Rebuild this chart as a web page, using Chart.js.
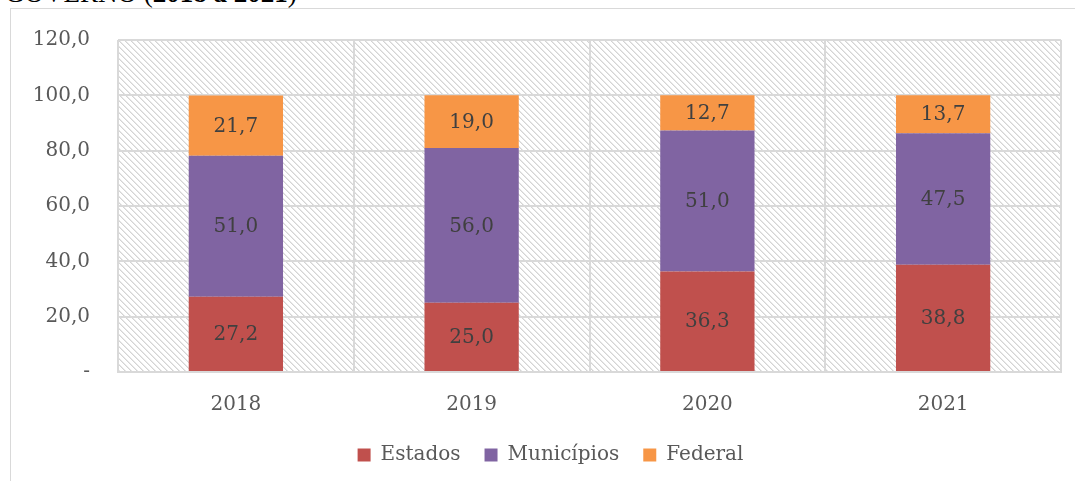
<!DOCTYPE html>
<html>
<head>
<meta charset="utf-8">
<script src="https://cdn.jsdelivr.net/npm/chart.js@4/dist/chart.umd.min.js"></script>
<style>
  html, body { margin: 0; padding: 0; background: #fff; width: 1075px; height: 481px; overflow: hidden; }
  #wrap { position: absolute; left: 0; top: 0; width: 1075px; height: 481px; }
  #title { position: absolute; left: 5px; top: -20px; font-family: "Liberation Serif", serif; font-size: 27px; color: #000; white-space: nowrap; line-height: 27px; }
  #frameTop { position: absolute; left: 10px; top: 8px; width: 1065px; height: 1px; background: #d9d9d9; }
  #frameLeft { position: absolute; left: 10px; top: 8px; width: 1px; height: 473px; background: #d9d9d9; }
  canvas { position: absolute; left: 0; top: 0; }
</style>
</head>
<body>
<div id="wrap">
  <div id="title">GOVERNO (<b>2018 a 2021</b>)</div>
  <div id="frameTop"></div>
  <div id="frameLeft"></div>
  <canvas id="c" width="1075" height="481"></canvas>
</div>
<script>
const categories = ["2018", "2019", "2020", "2021"];
const estados = [27.2, 25.0, 36.3, 38.8];
const municipios = [51.0, 56.0, 51.0, 47.5];
const federal = [21.7, 19.0, 12.7, 13.7];
const seriesNames = ["Estados", "Municípios", "Federal"];
const yTicks = [0, 20, 40, 60, 80, 100, 120];

const FONT = "'DejaVu Serif', 'Liberation Serif', serif";
const TXT = "#595959";

function fmt(v) {
  return v.toFixed(1).replace(".", ",");
}

let hatch = null;
function getHatch(ctx) {
  if (hatch) return hatch;
  const N = 6;
  const p = document.createElement("canvas");
  p.width = N; p.height = N;
  const g = p.getContext("2d");
  g.fillStyle = "#ffffff";
  g.fillRect(0, 0, N, N);
  for (let y = 0; y < N; y++) {
    g.fillStyle = "#d4d4d4";
    g.fillRect(y % N, y, 1, 1);
    g.fillStyle = "#e8e8e8";
    g.fillRect((y + 1) % N, y, 1, 1);
  }
  hatch = ctx.createPattern(p, "repeat");
  return hatch;
}

const hatchPlugin = {
  id: "hatchBg",
  beforeDraw(chart) {
    const { ctx, chartArea } = chart;
    ctx.save();
    ctx.fillStyle = getHatch(ctx);
    ctx.fillRect(chartArea.left, chartArea.top, chartArea.right - chartArea.left, chartArea.bottom - chartArea.top);
    ctx.restore();
  }
};

const legendShift = {
  id: "legendShift",
  afterLayout(chart) {
    const lg = chart.legend;
    if (lg) { lg.left += 20; lg.right += 20; }
  }
};

const labelPlugin = {
  id: "segLabels",
  afterDatasetsDraw(chart) {
    const ctx = chart.ctx;
    ctx.save();
    ctx.font = "20px " + FONT;
    ctx.fillStyle = "#404040";
    ctx.textAlign = "center";
    ctx.textBaseline = "middle";
    chart.data.datasets.forEach((ds, i) => {
      const meta = chart.getDatasetMeta(i);
      meta.data.forEach((el, j) => {
        const c = el.getCenterPoint();
        ctx.fillText(fmt(ds.data[j]), c.x, c.y + 1);
      });
    });
    ctx.restore();
  }
};

new Chart(document.getElementById("c"), {
  type: "bar",
  data: {
    labels: categories,
    datasets: [
      { label: seriesNames[0], data: estados, backgroundColor: "#C0504D" },
      { label: seriesNames[1], data: municipios, backgroundColor: "#8064A2" },
      { label: seriesNames[2], data: federal, backgroundColor: "#F79646" }
    ]
  },
  options: {
    responsive: false,
    animation: false,
    layout: { padding: { top: 31, right: 14, left: 0, bottom: 6 } },
    datasets: { bar: { categoryPercentage: 1.0, barPercentage: 0.4, borderWidth: 0 } },
    scales: {
      x: {
        stacked: true,
        grid: { display: true, offset: true, color: "#d9d9d9", lineWidth: 2, drawTicks: false },
        border: { display: true, color: "#d9d9d9", width: 2 },
        ticks: { color: TXT, font: { family: FONT, size: 20 }, padding: 21 },
        afterFit(s) { s.height = 49; }
      },
      y: {
        stacked: true,
        min: 0, max: 120,
        afterBuildTicks(s) { s.ticks = yTicks.map(v => ({ value: v })); },
        grid: { color: "#d9d9d9", lineWidth: 2, drawTicks: false },
        border: { display: false },
        ticks: {
          color: TXT, font: { family: FONT, size: 20 }, padding: 28,
          callback: (v) => v === 0 ? "-" : fmt(v)
        },
        afterFit(s) { s.width = 118; }
      }
    },
    plugins: {
      legend: {
        position: "bottom",
        labels: {
          color: TXT, font: { family: FONT, size: 20 },
          boxWidth: 13, boxHeight: 13, padding: 24
        }
      },
      tooltip: { enabled: false }
    }
  },
  plugins: [hatchPlugin, legendShift, labelPlugin]
});
</script>
</body>
</html>
